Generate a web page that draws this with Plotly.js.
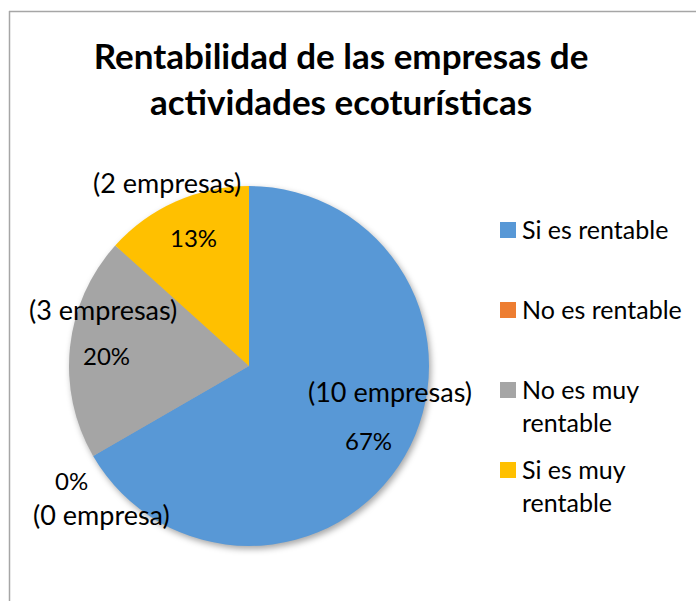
<!DOCTYPE html>
<html>
<head>
<meta charset="utf-8">
<script src="https://cdn.plot.ly/plotly-3.0.1.min.js"></script>
<style>
html,body{margin:0;padding:0;background:#fff;}
#chart{width:696px;height:601px;}
#chart .pielayer{filter:drop-shadow(2px 3px 3px rgba(0,0,0,0.35));}
</style>
</head>
<body>
<div id="chart"></div>
<script>
// ---- data ----
const categories = ["Si es rentable", "No es rentable", "No es muy rentable", "Si es muy rentable"];
const legendLabels = ["Si es rentable", "No es rentable", "No es muy<br>rentable", "Si es muy<br>rentable"];
const empresas = [10, 0, 3, 2];
const countLabels = ["(10 empresas)", "(0 empresa)", "(3 empresas)", "(2 empresas)"];
const colors = ["#5898D6", "#ED7D31", "#A5A5A5", "#FFC000"];
const titleText = "Rentabilidad de las empresas de<br>actividades ecoturísticas";

const W = 696, H = 601;
const FONT = "Lato, 'Open Sans', sans-serif";
const total = empresas.reduce((a, b) => a + b, 0);
const pctLabels = empresas.map(v => Math.round(v / total * 100) + "%");

// pixel helpers -> paper coords
const px = x => x / W;
const py = y => 1 - y / H;

const trace = {
  type: "pie",
  labels: categories,
  values: empresas,
  marker: {colors: colors, line: {width: 0}},
  sort: false,
  direction: "clockwise",
  rotation: 0,
  textinfo: "none",
  hoverinfo: "label+value+percent",
  showlegend: false,
  domain: {x: [px(69), px(429)], y: [py(546), py(186)]}
};

// data label placements (pixel centres) per category: [countLabel, pctLabel]
const labelPos = [
  {c: [390, 391], p: [368, 440]},
  {c: [101, 514], p: [71, 480]},
  {c: [103, 309], p: [106, 355]},
  {c: [167, 183], p: [193, 237]}
];

const annotations = [];
categories.forEach((cat, i) => {
  annotations.push({
    xref: "paper", yref: "paper", x: px(labelPos[i].c[0]), y: py(labelPos[i].c[1]),
    text: countLabels[i], showarrow: false, xanchor: "center", yanchor: "middle",
    font: {family: FONT, size: 27, color: "#000"}
  });
  annotations.push({
    xref: "paper", yref: "paper", x: px(labelPos[i].p[0]), y: py(labelPos[i].p[1]),
    text: pctLabels[i], showarrow: false, xanchor: "center", yanchor: "middle",
    font: {family: FONT, size: 24, color: "#000"}
  });
});

// custom legend
const legendTop = [230, 310, 390, 470];
const shapes = [
  {type: "line", xref: "paper", yref: "paper", x0: px(9.5), x1: px(9.5), y0: py(11), y1: 0,
   line: {color: "#A6A6A6", width: 1.5}},
  {type: "line", xref: "paper", yref: "paper", x0: px(9), x1: 1, y0: py(11.5), y1: py(11.5),
   line: {color: "#A6A6A6", width: 1.5}}
];
categories.forEach((cat, i) => {
  const y = legendTop[i];
  shapes.push({
    type: "rect", xref: "paper", yref: "paper",
    x0: px(500), x1: px(516), y0: py(y - 8), y1: py(y + 8),
    fillcolor: colors[i], line: {width: 0}
  });
  annotations.push({
    xref: "paper", yref: "paper", x: px(520), y: py(y - 18),
    text: legendLabels[i], showarrow: false, xanchor: "left", yanchor: "top", align: "left",
    font: {family: FONT, size: 25, color: "#000"}
  });
});

const layout = {
  width: W, height: H,
  margin: {l: 0, r: 0, t: 0, b: 0},
  paper_bgcolor: "#fff",
  title: {
    text: titleText, x: px(341), xanchor: "center", y: py(69), yanchor: "middle",
    font: {family: FONT, size: 35, color: "#000", weight: "bold"}
  },
  shapes: shapes,
  annotations: annotations
};

Plotly.newPlot("chart", [trace], layout, {displayModeBar: false, staticPlot: true});
</script>
</body>
</html>
